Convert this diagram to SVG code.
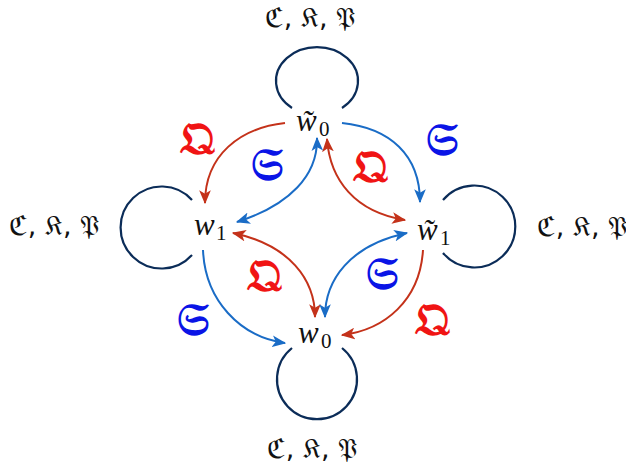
<svg xmlns="http://www.w3.org/2000/svg" width="626" height="474" viewBox="0 0 626 474">
<style>
.node{font-family:"Liberation Serif","DejaVu Serif",serif;font-style:italic;font-size:31px;fill:#111}
.sub{font-family:"Liberation Serif","DejaVu Serif",serif;font-style:normal;font-size:21px;fill:#111}
.frak{font-family:"DejaVu Sans","DejaVu Serif","Noto Sans",sans-serif;font-size:27px;fill:#111}
.lq{font-family:"DejaVu Sans","DejaVu Serif","Noto Sans",sans-serif;font-size:46px;fill:#f01414;font-weight:bold}
.ls{font-family:"DejaVu Sans","DejaVu Serif","Noto Sans",sans-serif;font-size:46px;fill:#0a14e6;font-weight:bold}
.loop{fill:none;stroke:#0b2c58;stroke-width:2.2}
.r{fill:none;stroke:#c4321a;stroke-width:2}
.b{fill:none;stroke:#1a6cc6;stroke-width:2}
</style>
<defs>
<marker id="ar" markerUnits="userSpaceOnUse" markerWidth="14" markerHeight="12" refX="11" refY="5" orient="auto-start-reverse" viewBox="0 0 12 10">
<path d="M0,0 L12,5 L0,10 L3,5 Z" fill="#c4321a"/>
</marker>
<marker id="ab" markerUnits="userSpaceOnUse" markerWidth="14" markerHeight="12" refX="11" refY="5" orient="auto-start-reverse" viewBox="0 0 12 10">
<path d="M0,0 L12,5 L0,10 L3,5 Z" fill="#1a6cc6"/>
</marker>
</defs>
<g id="connectors">
<path class="loop" d="M292,108 A41,34 0 1 1 342,108"/>
<path class="loop" d="M192,200 A41,41 0 1 0 192,255"/>
<path class="loop" d="M443,200 A41,41 0 1 1 443,253"/>
<path class="loop" d="M292,348 A40,40 0 1 0 342,348"/>
<path class="r" marker-end="url(#ar)" d="M285,123 C240,128 205,155 205,203"/>
<path class="b" marker-end="url(#ab)" d="M342,123 C390,128 420,155 420,202"/>
<path class="b" marker-start="url(#ab)" marker-end="url(#ab)" d="M237,222 C290,205 318,175 317,138"/>
<path class="r" marker-start="url(#ar)" marker-end="url(#ar)" d="M327,139 C330,180 355,212 405,220"/>
<path class="r" marker-start="url(#ar)" marker-end="url(#ar)" d="M233,233 C290,245 315,280 315,317"/>
<path class="b" marker-start="url(#ab)" marker-end="url(#ab)" d="M407,233 C350,245 325,280 325,317"/>
<path class="b" marker-end="url(#ab)" d="M203,250 C205,300 240,337 285,343"/>
<path class="r" marker-end="url(#ar)" d="M423,250 C420,300 385,330 342,335"/>
</g>
<g id="labels">
<text class="lq" x="197" y="154" text-anchor="middle">𝔔</text>
<text class="ls" x="267" y="180" text-anchor="middle">𝔖</text>
<text class="lq" x="370" y="182" text-anchor="middle">𝔔</text>
<text class="ls" x="442" y="155" text-anchor="middle">𝔖</text>
<text class="lq" x="264" y="291" text-anchor="middle">𝔔</text>
<text class="ls" x="382" y="289" text-anchor="middle">𝔖</text>
<text class="ls" x="193" y="335" text-anchor="middle">𝔖</text>
<text class="lq" x="432" y="335" text-anchor="middle">𝔔</text>
</g>
<g id="node-wt0">
<text class="node" x="296" y="131">w̃</text><text class="sub" x="319" y="136">0</text>
<text class="frak" x="310" y="27" text-anchor="middle">ℭ, 𝔎, 𝔓</text>
</g>
<g id="node-w1">
<text class="node" x="194" y="235">w</text><text class="sub" x="216" y="240">1</text>
<text class="frak" x="54" y="235" text-anchor="middle">ℭ, 𝔎, 𝔓</text>
</g>
<g id="node-wt1">
<text class="node" x="417" y="240">w̃</text><text class="sub" x="440" y="245">1</text>
<text class="frak" x="582" y="236" text-anchor="middle">ℭ, 𝔎, 𝔓</text>
</g>
<g id="node-w0">
<text class="node" x="298" y="343">w</text><text class="sub" x="321" y="348">0</text>
<text class="frak" x="312" y="458" text-anchor="middle">ℭ, 𝔎, 𝔓</text>
</g>
</svg>
